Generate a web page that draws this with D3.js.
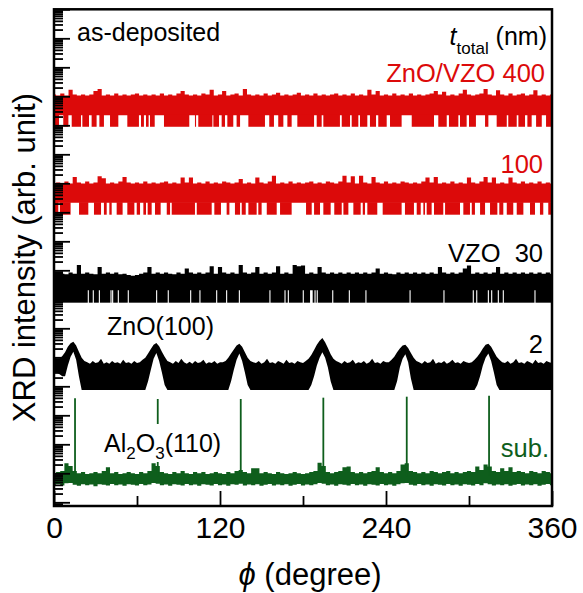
<!DOCTYPE html>
<html>
<head>
<meta charset="utf-8">
<script src="https://cdn.jsdelivr.net/npm/d3@7"></script>
<style>
body { margin: 0; background: #fff; }
text { font-family: "Liberation Sans", Arial, Helvetica, sans-serif; }
</style>
</head>
<body>
<div id="chart"></div>
<script>
// phi grids (degree)
var grid3 = d3.range(0, 361, 3),
grid2 = d3.range(0, 361, 2);

// offsets between traces (counts of 1 = the floor of each trace)
var offsets = { z400: 8.9e12, z100: 8.26e9, v30: 7.64e6, z2: 7.45e3, sub: 1 };
var floorCount = 1;
var bandLow = { z400: 2.5, z100: 2.6, v30: 2.7 };

// upper edge of the noise band, read on a 3 degree grid
var hi400 = [13,12,14,12,19,13,12,13,12,13,17,20,12,13,12,14,12,13,12,13,14,12,13,12,13,12,14,12,13,12,14,17,13,12,13,12,14,13,19,12,13,17,12,13,14,12,20,13,12,13,12,14,12,13,15,12,13,12,13,15,12,13,12,14,12,13,12,13,14,12,13,12,14,12,13,12,19,13,17,12,13,12,14,12,13,12,14,12,13,12,13,14,17,13,16,12,13,12,14,19,13,12,13,14,20,13,12,18,13,12,14,12,13,14,12,13,18,12,13,12,13];
var hi100 = [12,13,12,14,12,20,13,12,14,12,13,21,18,12,13,12,14,20,13,12,13,12,14,12,13,12,13,14,12,13,12,19,13,19,12,13,12,14,12,13,12,14,13,12,13,17,12,13,12,19,13,12,14,22,12,13,12,14,12,13,12,13,14,12,13,12,14,13,12,14,22,13,21,12,22,13,12,20,13,12,14,12,13,12,14,13,12,13,12,14,19,13,20,12,13,12,14,12,13,12,19,13,12,14,20,13,19,12,13,12,19,13,12,14,12,13,12,14,12,13,12];
var hi30 = [10,11,10,9.5,11,10,20,10,11,10,
  9.5,17,10,11,10,11,9.5,10,9,8.5,
  9,10,11,17,10,11,10,11,10,9.5,
  11,10,15,11,10,11,10,11,18,10,
  17,11,10,11,10,20,11,10,11,17,
  10,11,10,11,18,10,11,10,20,18,
  19,10,11,10,17,11,10,11,10,11,
  10,11,10,11,10,11,10,11,15,10,
  11,10,9.5,11,10,11,10,11,10,11,
  10,11,10,17,11,10,11,10,11,15,
  19,10,11,10,11,10,11,17,10,11,
  10,11,10,11,10,11,10,11,10,11,
  10];

// phi ranges where the trace never drops to the floor (white gaps)
var gaps400 = [[3.6,6.7],[10.4,12.8],[19.5,20.5],[25.3,27.2],[30.8,32.8],[36.1,40.5],[46.5,53],[61.4,62.9],[65,66.5],[68.4,69.4],[72.8,79.5],[97.8,101.9],[102.7,104.3],[114.5,115.2],[119.3,121.2],[123.6,125.3],[129.6,132],[134.5,140.5],[152.5,155.6],[159,162.1],[165.8,168.7],[171.8,175.9],[188,189.9],[193.5,194.7],[206.7,208],[214,215.2],[220,221.2],[226.5,228.4],[232.8,234.4],[240.5,242.9],[251.3,258.6],[274.7,277.8],[283.9,285.5],[292.3,293.5],[298.3,300],[305,311.6],[314,320],[327.3,328.4],[334.5,335.7],[340.5,342.2],[345.3,348.5],[352.6,355.7]];
var gaps100 = [[3.1,4.3],[12,18.1],[24.8,28.9],[34,36.1],[38.1,40],[41.7,45.3],[49.6,53],[58.1,59.8],[62.2,64.6],[66.5,67.7],[70.6,73],[77.1,81.5],[83.9,85.1],[101.9,103.2],[114,115.9],[120.7,124.8],[126.8,130.8],[134.5,135.7],[138.6,140.5],[146.5,147.7],[150.1,153.8],[161,163.4],[171.8,182.2],[186.3,188],[192.3,194.7],[200,202.6],[208,209.2],[212.8,216.4],[221.7,223.2],[224.8,226.5],[233.7,237.6],[251.3,253.7],[260.2,262.2],[265.1,267],[268.2,269.4],[273,274.7],[281.4,282.7],[293.5,295.9],[300.7,302],[304.3,308],[311.6,315.2],[320.5,321.9],[324.8,327.3],[332,334.5],[339.3,344.1],[347.7,351.3],[353.7,357.3]];
var gaps30 = [[24.4,25.2],[28,28.8],[32.4,33.2],[40.8,41.6],[42,42.8],[46.1,46.9],[53.3,54.1],[73.8,74.6],[82.2,83],[98.4,99.2],[105.1,105.9],[117.2,118],[124.4,125.2],[133.6,134.4],[155.7,156.5],[166.6,167.4],[169,169.8],[179.8,180.6],[185.1,187],[188.3,189.1],[189.9,190.7],[201.1,201.9],[213.1,213.9],[225.1,225.9],[257,257.8],[281.5,282.3],[302.7,303.5],[305.2,306],[313.6,314.4],[316,316.8],[320.8,321.6],[324.4,325.2],[347.3,348.1]];

// ZnO/VZO 2 nm: upper and lower edge on a 2 degree grid
var hi2 = [13,12,12,15,20,31,41,46,34,21,13,10,
  9,8,10,8.5,9,12,8,9,8,10,8.5,9,8,11,8.5,9,8,10,8.5,
  9,11,13,18,26,36,42,32,21,14,10,
  9,8,10,8.5,12,9,8,9.5,8,10,8.5,9,11,8,9,8.5,10,8,9,
  9,10,13,18,25,34,39,31,20,13,10,
  9,8.5,10,8,9,12,8.5,9,8,10,9,8,11,8.5,9,8,10,9,8.5,
  10,12,16,24,36,50,62,44,28,17,12,10,
  9,8,10,8.5,9,11,8,9,8.5,10,8,9,12,8.5,9,8,10,9,
  9,11,14,20,27,34,36,28,19,13,10,
  9,8,10,8.5,9,12,8,9,8.5,10,8,9,11,8.5,9,8,10,9,8.5,
  9,11,14,19,27,36,39,31,21,14,11,
  9,8.5,10,8,9,12,8.5,9,8,10,9,8,11,8.5,9,8,10,9,8.5];
var lo2 = [4,4,3.5,3,3,7,14,21,11,3,1,1,
  1,1,1,1,1,1,1,1,1,1,1,1,1,1,1,1,1,1,1,
  1,1,1,2,5,12,19,10,4,1.5,1,
  1,1,1,1,1,1,1,1,1,1,1,1,1,1,1,1,1,1,1,
  1,1,1,2,5,11,18,10,4,1.5,1,
  1,1,1,1,1,1,1,1,1,1,1,1,1,1,1,1,1,1,1,
  1,1,1.5,3,7,13,20,13,6,2,1,1,
  1,1,1,1,1,1,1,1,1,1,1,1,1,1,1,1,1,1,
  1,1,1,2,6,12,17,9,2.5,1,1,
  1,1,1,1,1,1,1,1,1,1,1,1,1,1,1,1,1,1,1,
  1,1,1.5,3,7,13,18,10,4,1.5,1,
  1,1,1,1,1,1,1,1,1,1,1,1,1,1,1,1,1,1,1];

// Al2O3 substrate: noise band on a 3 degree grid and the sharp peaks
var hiSub = [10,11,12,22,18,12,10,11,9.5,10,11,10,12,16,10,11,9.5,10,11,10,9.5,11,10,12,22,18,11,10,9.5,11,10,12,10,9.5,11,10,11,9.5,10,11,10,9.5,11,10,12,13,11,10,15,15,10,11,10,9.5,11,10,9.5,10,11,10,9.5,10,11,12,23,18,11,10,11,12,16,17,11,10,11,10,11,12,16,11,10,11,10,12,20,22,12,11,10,11,10,12,11,10,11,12,10,11,10,11,12,11,17,13,20,17,12,11,15,12,16,11,12,11,10,12,11,10,12,11,10];
var loSub = [4,4.3,3.8,4.5,4.6,4,3.7,4.2,3.9,4.1,3.6,4.2,4,3.8,4.3,3.9,4.1,3.7,4.2,4,3.8,4.3,3.9,4.1,4.6,4.4,3.9,4.1,3.7,4.2,4,3.8,4.3,3.9,4.1,3.7,4.2,4,3.8,4.3,3.9,4.1,3.7,4.2,4,4.4,3.8,4.1,3.9,4.2,3.7,4,4.3,3.8,4.1,3.9,4.2,3.7,4,4.3,3.8,4.1,3.9,4.2,4.6,4.4,3.9,4.1,3.7,4.2,4,3.8,4.3,3.9,4.1,3.7,4.2,4,3.8,4.3,3.9,4.1,3.7,4.2,4.5,4.6,4,3.8,4.3,3.9,4.1,3.7,4.2,4,3.8,4.3,3.9,4.1,3.7,4.2,4,3.8,4.3,3.9,4.5,4.2,3.8,4.1,3.9,4.2,3.7,4,4.3,3.8,4.1,3.9,4.2,3.7,4,4.3,3.9];
var subPeakPhi = [15.2, 75, 135, 194.7, 255, 314.5];
var subPeakTop = [3850, 3650, 3650, 4050, 4380, 4740];

var xTicks = [0, 120, 240, 360],
xMinorTicks = [60, 180, 300];

var red = "#dc0a0a", green = "#0e5e1c";

var margin = { top: 9.3, right: 31, bottom: 87, left: 54 },
width = 583 - margin.left - margin.right,
height = 593 - margin.top - margin.bottom;

var x = d3.scaleLinear()
    .domain([0, 360])
    .range([0, width]);

var y = d3.scaleLog()
    .domain([Math.pow(10, -0.128), 1e17])
    .range([height, 0]);

var svg = d3.select("#chart")
  .append("svg")
    .attr("width", 583)
    .attr("height", 593);

var g = svg.append("g")
    .attr("transform", "translate(" + margin.left + "," + margin.top + ")");

g.append("clipPath").attr("id", "clip")
  .append("rect").attr("width", width).attr("height", height);

var plot = g.append("g").attr("clip-path", "url(#clip)");

// flat noisy trace: solid band plus floor dips outside the gaps
function drawNoise(hi, gaps, key, color) {
    var off = offsets[key], low = bandLow[key];
    var pts = grid3.map(function(p, i) { return { phi: p, v: hi[i] }; });
    var area = d3.area()
        .curve(d3.curveStep)
        .defined(function(d) { return d.v != null; })
        .x(function(d) { return x(d.phi); })
        .y0(y(low * off))
        .y1(function(d) { return y(d.v * off); });
    plot.append("path")
        .datum(pts)
        .attr("fill", color)
        .attr("d", area);

    var segs = [], start = 0;
    gaps.forEach(function(gp) {
        if (gp[0] > start) segs.push([start, gp[0]]);
        start = Math.max(start, gp[1]);
    });
    if (start < 360) segs.push([start, 360]);

    plot.selectAll(null)
        .data(segs)
      .enter().append("rect")
        .attr("x", function(d) { return x(d[0]); })
        .attr("width", function(d) { return x(d[1]) - x(d[0]); })
        .attr("y", y(low * off) - 0.5)
        .attr("height", y(floorCount * off) - y(low * off) + 0.5)
        .attr("fill", color);
}

drawNoise(hi400, gaps400, "z400", red);
drawNoise(hi100, gaps100, "z100", red);
drawNoise(hi30, gaps30, "v30", "#000");

// 2 nm trace with the ZnO(100) peaks
var band2 = d3.area()
    .x(function(d, i) { return x(grid2[i]); })
    .y0(function(d, i) { return y(lo2[i] * offsets.z2); })
    .y1(function(d) { return y(d * offsets.z2); });
plot.append("path")
    .datum(hi2)
    .attr("fill", "#000")
    .attr("d", band2);

// substrate
var bandSub = d3.area()
    .curve(d3.curveStep)
    .x(function(d, i) { return x(grid3[i]); })
    .y0(function(d, i) { return y(loSub[i] * offsets.sub); })
    .y1(function(d) { return y(d * offsets.sub); });
plot.append("path")
    .datum(hiSub)
    .attr("fill", green)
    .attr("d", bandSub);

plot.selectAll(null)
    .data(subPeakPhi)
  .enter().append("line")
    .attr("x1", function(d) { return x(d); })
    .attr("x2", function(d) { return x(d); })
    .attr("y1", y(8 * offsets.sub))
    .attr("y2", function(d, i) { return y(subPeakTop[i] * offsets.sub); })
    .attr("stroke", green)
    .attr("stroke-width", 1.8);

// log ticks on the left, no labels
var yMajor = [], yMinor = [];
d3.range(0, 18).forEach(function(k) { yMajor.push(Math.pow(10, k)); });
d3.range(-1, 17).forEach(function(k) {
    d3.range(2, 10).forEach(function(m) {
        var v = m * Math.pow(10, k);
        if (v > y.domain()[0] && v < 1e17) yMinor.push(v);
    });
});

g.append("g")
    .attr("class", "axis")
    .call(d3.axisLeft(y).tickValues(yMinor).tickSize(-9).tickFormat(""));
g.append("g")
    .attr("class", "axis")
    .call(d3.axisLeft(y).tickValues(yMajor).tickSize(-16).tickFormat(""));

g.append("g")
    .attr("class", "axis")
    .attr("transform", "translate(0," + height + ")")
    .call(d3.axisBottom(x).tickValues(xMinorTicks).tickSize(-10).tickFormat(""));
g.append("g")
    .attr("class", "axis xlab")
    .attr("transform", "translate(0," + height + ")")
    .call(d3.axisBottom(x).tickValues(xTicks).tickSize(-15).tickPadding(11).tickFormat(d3.format("d")));

g.selectAll(".axis .domain").remove();
g.selectAll(".axis line").attr("stroke", "#000").attr("stroke-width", 1.8);
g.selectAll(".xlab text")
    .attr("font-size", "30px")
    .attr("fill", "#000")
    .style("font-family", "'Liberation Sans', Arial, sans-serif");

// frame
g.append("rect")
    .attr("width", width)
    .attr("height", height)
    .attr("fill", "none")
    .attr("stroke", "#000")
    .attr("stroke-width", 2.5);

// axis titles
svg.append("text")
    .attr("transform", "translate(35," + (margin.top + height / 2) + ") rotate(-90)")
    .attr("text-anchor", "middle")
    .attr("font-size", "31px")
    .text("XRD intensity (arb. unit)");

var xt = svg.append("text")
    .attr("x", 310)
    .attr("y", 585)
    .attr("text-anchor", "middle")
    .attr("font-size", "31px");
xt.append("tspan").attr("font-style", "italic").text("\u03d5");
xt.append("tspan").text(" (degree)");

// labels
svg.append("text")
    .attr("x", 77).attr("y", 41)
    .attr("font-size", "25px")
    .text("as-deposited");

var tt = svg.append("text")
    .attr("x", 547).attr("y", 45)
    .attr("text-anchor", "end")
    .attr("font-size", "25px");
tt.append("tspan").attr("font-style", "italic").text("t");
tt.append("tspan").attr("font-size", "17px").attr("dy", 9).text("total");
tt.append("tspan").attr("dy", -9).text(" (nm)");

var rightLabels = [
    { t: "ZnO/VZO 400", y: 81.7, c: red, x: 545 },
    { t: "100", y: 172.7, c: red, x: 543 },
    { t: "VZO\u00a0\u00a030", y: 262.3, c: "#000", x: 543 },
    { t: "2", y: 353.3, c: "#000", x: 543 },
    { t: "sub.", y: 456.7, c: green, x: 549 }
];
svg.selectAll(null)
    .data(rightLabels)
  .enter().append("text")
    .attr("x", function(d) { return d.x; })
    .attr("y", function(d) { return d.y; })
    .attr("text-anchor", "end")
    .attr("font-size", "25.5px")
    .attr("fill", function(d) { return d.c; })
    .text(function(d) { return d.t; });

svg.append("text")
    .attr("x", 107).attr("y", 335)
    .attr("font-size", "25px")
    .text("ZnO(100)");

// the substrate label sits on a white box that hides the peak behind it
svg.append("rect")
    .attr("x", 100).attr("y", 424)
    .attr("width", 122).attr("height", 38)
    .attr("fill", "#fff");

var al = svg.append("text")
    .attr("x", 104).attr("y", 451.7)
    .attr("font-size", "25px");
al.append("tspan").text("Al");
al.append("tspan").attr("font-size", "17px").attr("dy", 7).text("2");
al.append("tspan").attr("dy", -7).text("O");
al.append("tspan").attr("font-size", "17px").attr("dy", 7).text("3");
al.append("tspan").attr("dy", -7).text("(110)");
</script>
</body>
</html>
